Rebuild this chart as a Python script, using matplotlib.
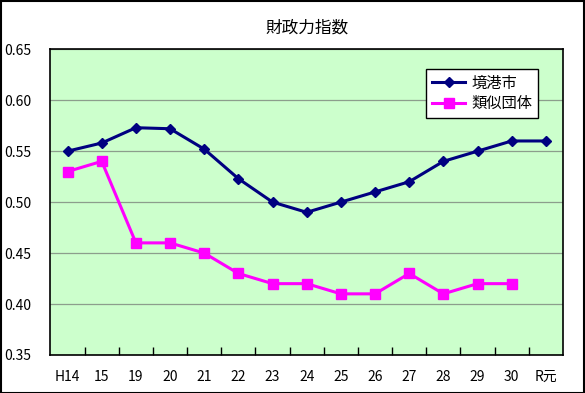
import numpy as np
import matplotlib.pyplot as plt
from matplotlib.patches import Rectangle

plt.rcParams['font.family'] = ['Noto Sans CJK JP', 'DejaVu Sans']

years = ['H14', '15', '19', '20', '21', '22', '23', '24', '25', '26', '27', '28', '29', '30', 'R元']
sakaiminato = [0.55, 0.558, 0.573, 0.572, 0.552, 0.523, 0.50, 0.49, 0.50, 0.51, 0.52, 0.54, 0.55, 0.56, 0.56]
ruiji = [0.53, 0.54, 0.46, 0.46, 0.45, 0.43, 0.42, 0.42, 0.41, 0.41, 0.43, 0.41, 0.42, 0.42]

fig = plt.figure(figsize=(5.85, 3.93), dpi=100)
ax = fig.add_axes([0.0863, 0.0967, 0.876, 0.778])
ax.set_facecolor('#ccffcc')

x = np.arange(len(years))
ax.plot(x, sakaiminato, color='#000080', lw=2.2, marker='D', ms=5.5, label='境港市')
ax.plot(x[:len(ruiji)], ruiji, color='#ff00ff', lw=2.2, marker='s', ms=7, label='類似団体')

ax.set_ylim(0.35, 0.65)
ax.set_yticks(np.arange(0.35, 0.651, 0.05))
ax.set_yticklabels(['%.2f' % v for v in np.arange(0.35, 0.651, 0.05)])
ax.set_xlim(-0.5, len(years) - 0.5)
ax.set_xticks(x)
ax.set_xticklabels(years)
ax.set_xticks(np.arange(0.5, len(years) - 1, 1), minor=True)
ax.tick_params(axis='x', which='major', length=0, pad=11)
ax.tick_params(axis='x', which='minor', direction='in', length=6, width=1, top=False)
ax.tick_params(axis='y', length=0, pad=14)
ax.tick_params(labelsize=10)
ax.grid(axis='y', color='#8c9e8c', lw=0.9)
ax.set_axisbelow(True)
for s in ax.spines.values():
    s.set_linewidth(1.2)

ax.set_title('財政力指数', fontsize=12, pad=12)

leg = ax.legend(loc='upper right', bbox_to_anchor=(0.951, 0.935), borderaxespad=0,
                fancybox=False, edgecolor='black', framealpha=1, fontsize=11,
                handlelength=2.2, borderpad=0.35, labelspacing=0.25, handletextpad=0.4)
leg.get_frame().set_linewidth(1.0)

fig.patches.append(Rectangle((0.001, 0.001), 0.997, 0.997, transform=fig.transFigure,
                             fill=False, edgecolor='black', lw=1.5))

fig.savefig('out.png', dpi=100)
